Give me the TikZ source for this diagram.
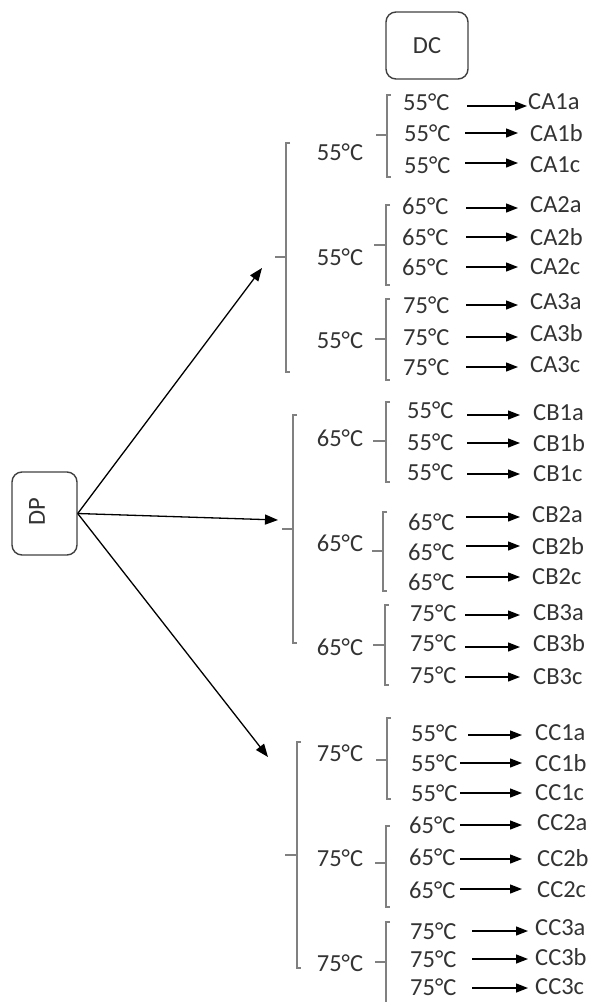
\documentclass[tikz,border=0pt]{standalone}
\usepackage{fontspec}
\setmainfont{Carlito}
\usetikzlibrary{arrows.meta}
\definecolor{ink}{HTML}{333333}
\definecolor{brk}{HTML}{808080}
\definecolor{edge}{HTML}{404040}

\begin{document}
\begin{tikzpicture}[x=1pt,y=-1pt,
  lbl/.style={font=\fontsize{24.5}{28}\selectfont, text=ink, inner sep=0pt},
  box/.style={draw=edge, line width=1.4pt, rounded corners=10pt},
  arr/.style={-{Triangle[length=12pt,width=9pt]}, line width=1.3pt},
  bigarr/.style={-{Triangle[length=13pt,width=10pt]}, line width=1.3pt},
  brace/.style={draw=brk, line width=1.5pt}]
\useasboundingbox (0,0) rectangle (592,1002);
\clip (0,0) rectangle (592,1002);

% header boxes
\node[box, lbl, minimum width=82pt, minimum height=67pt] (DC) at (427,45.5) {DC};
\node[box, lbl, minimum width=65pt, minimum height=83pt] (DP) at (44.5,513.5) {};
\node[lbl, rotate=90] (DPlabel) at (37,512) {DP};

% arrows from DP to the three groups
\coordinate (inA) at (262,268);
\coordinate (inB) at (278,520);
\coordinate (inC) at (268,757);
\foreach \g in {A,B,C} \draw[bigarr] (DP.east) -- (in\g);

% large brackets: x / top / bottom / tick y / tick start
\foreach \x/\t/\b/\m/\s in {286/143/372/257/275, 293/415/643/529/282, 297/742/968/855/285}
  \draw[brace] (\x+4,\t) -- (\x,\t) -- (\x,\b) -- (\x+4,\b) (\s,\m) -- (\x,\m);

% small brackets
\foreach \x/\t/\b/\m/\s in {387/95/177/135/376, 386/205/285/245/374, 386/299/380/339/375,
  386/402/482/441/373, 383/512/591/551/372, 385/605/685/645/373,
  387/718/799/760/376, 386/826/907/863/375, 386/922/1010/962/375}
  \draw[brace] (\x+4,\t) -- (\x,\t) -- (\x,\b) -- (\x+4,\b) (\s,\m) -- (\x,\m);

% middle temperatures
\foreach \n/\t/\y in {A1/55/152, A2/55/257, A3/55/340, B1/65/438, B2/65/543, B3/65/647,
  C1/75/753, C2/75/858, C3/75/963}
  \node[lbl] (m\n) at (340,\y) {\t°C};

% rows: name / temp / text x / text y / arrow start x / arrow y / arrow end x / code / code x / code y
\foreach \n/\t/\tx/\ty/\ax/\ay/\bx/\l/\lx/\ly in {
  A1a/55/403/102/467/106/527/CA1a/528/102,
  A1b/55/404/133/465/133/518/CA1b/530/133,
  A1c/55/404/165/465/163/518/CA1c/530/165,
  A2a/65/402/206/466/208/518/CA2a/530/205,
  A2b/65/402/237/466/237/518/CA2b/530/237,
  A2c/65/402/267/466/267/518/CA2c/530/267,
  A3a/75/403/305/466/305/518/CA3a/530/302,
  A3b/75/403/337/466/337/518/CA3b/530/333,
  A3c/75/403/367/466/367/518/CA3c/530/365,
  B1a/55/407/410/467/415/520/CB1a/533/413,
  B1b/55/407/442/467/443/520/CB1b/533/443,
  B1c/55/407/472/467/474/520/CB1c/533/474,
  B2a/65/408/522/466/517/520/CB2a/532/515,
  B2b/65/408/552/466/546/520/CB2b/532/546,
  B2c/65/408/582/466/577/520/CB2c/532/577,
  B3a/75/410/613/465/615/520/CB3a/533/613,
  B3b/75/410/643/465/647/520/CB3b/533/643,
  B3c/75/410/675/465/677/520/CB3c/533/677,
  C1a/55/411/733/468/735/522/CC1a/535/733,
  C1b/55/411/763/460/763/522/CC1b/535/763,
  C1c/55/411/793/460/793/522/CC1c/535/793,
  C2a/65/409/825/460/825/522/CC2a/537/823,
  C2b/65/409/857/460/859/522/CC2b/537/858,
  C2c/65/409/890/460/889/522/CC2c/537/890,
  C3a/75/410/931/472/931/528/CC3a/535/928,
  C3b/75/410/959/472/959/528/CC3b/535/957,
  C3c/75/410/987/472/988/528/CC3c/535/987}
{
  \pgfmathsetmacro\gap{\lx-\bx}
  \node[lbl, anchor=west] (t\n) at (\tx,\ty) {\t°C};
  \node[lbl, anchor=west, inner xsep=\gap pt] (l\n) at (\bx,\ly) {\l};
  \coordinate (s\n) at (\ax,\ay);
  \draw[arr] (s\n) -- (s\n -| l\n.west);
}
\end{tikzpicture}
\end{document}
